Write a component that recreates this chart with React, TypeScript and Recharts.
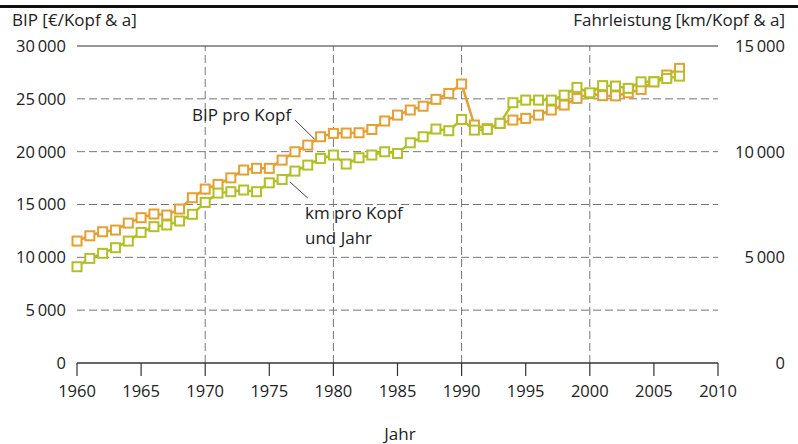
import { LineChart, Line, XAxis, YAxis, ReferenceLine } from 'recharts'

const years = [
  1960, 1961, 1962, 1963, 1964, 1965, 1966, 1967, 1968, 1969,
  1970, 1971, 1972, 1973, 1974, 1975, 1976, 1977, 1978, 1979,
  1980, 1981, 1982, 1983, 1984, 1985, 1986, 1987, 1988, 1989,
  1990, 1991, 1992, 1993, 1994, 1995, 1996, 1997, 1998, 1999,
  2000, 2001, 2002, 2003, 2004, 2005, 2006, 2007,
]

// BIP pro Kopf, €/Kopf & a (linke Achse)
const bip = [
  11540, 12040, 12420, 12580, 13240, 13750, 14100, 14000, 14570, 15640,
  16460, 16900, 17520, 18260, 18420, 18420, 19200, 19990, 20620, 21410,
  21730, 21760, 21790, 22100, 22900, 23460, 23940, 24300, 24950, 25510,
  26400, 22520, 22180, 22680, 22990, 23150, 23460, 23940, 24410, 25040,
  25510, 25300, 25280, 25570, 25890, 26610, 27250, 27880,
]

// Fahrleistung, km/Kopf & a (rechte Achse)
const km = [
  4555, 4950, 5190, 5455, 5770, 6180, 6450, 6530, 6720, 7035,
  7600, 8040, 8105, 8185, 8105, 8525, 8685, 9080, 9365, 9680,
  9840, 9415, 9710, 9840, 9995, 9915, 10420, 10705, 11070, 10990,
  11525, 11020, 11050, 11340, 12315, 12440, 12440, 12440, 12675, 13040,
  12785, 13125, 13105, 12995, 13305, 13305, 13465, 13575,
]

const xTicks = [1960, 1965, 1970, 1975, 1980, 1985, 1990, 1995, 2000, 2005, 2010]
const leftTicks = [0, 5000, 10000, 15000, 20000, 25000, 30000]
const rightTicks = [0, 5000, 10000, 15000]
const dashedY = [5000, 10000, 15000, 20000, 25000]
const dashedX = [1970, 1980, 1990, 2000]

const data = years.map((year, i) => ({ year, bip: bip[i], km: km[i] }))

const ORANGE = '#E6A030'
const GREEN = '#B2C024'
const FONT = "'Open Sans', 'Liberation Sans', sans-serif"

const fmt = (v: number) => {
  const s = String(v)
  return s.length > 3 ? s.slice(0, -3) + '\u2009' + s.slice(-3) : s
}

const square = (color: string) => (p: any) => (
  <rect
    key={`${color}-${p.index}`}
    x={p.cx - 4.5}
    y={p.cy - 4.5}
    width={9}
    height={9}
    fill="#fff"
    stroke={color}
    strokeWidth={2}
  />
)

const RightTick = ({ x, y, payload }: any) => (
  <text x={x + 67} y={y} dy="0.36em" textAnchor="end" fontSize={16.5} fill="#222" fontFamily={FONT}>
    {fmt(payload.value)}
  </text>
)

export default function App() {
  return (
    <div style={{ position: 'absolute', left: 0, top: 0, width: 798, height: 444, background: '#fff', fontFamily: FONT }}>
      <div style={{ position: 'absolute', left: 0, top: 5, width: 798, height: 3, background: '#111' }} />
      <div style={{ position: 'absolute', left: 12, top: 8, fontSize: 17, color: '#222' }}>BIP [€/Kopf &amp; a]</div>
      <div style={{ position: 'absolute', right: 13, top: 8, fontSize: 17, color: '#222' }}>Fahrleistung [km/Kopf &amp; a]</div>
      <LineChart width={798} height={444} data={data} margin={{ top: 46, right: 0, left: 0, bottom: 0 }}>
        <XAxis
          dataKey="year"
          type="number"
          domain={[1960, 2010]}
          ticks={xTicks}
          interval={0}
          height={81}
          tickSize={13}
          tickMargin={9}
          tick={{ fontSize: 16.5, fill: '#222', fontFamily: FONT }}
          axisLine={{ stroke: '#333', strokeWidth: 1.5 }}
          tickLine={{ stroke: '#333', strokeWidth: 1.2 }}
        />
        <YAxis
          yAxisId="left"
          domain={[0, 30000]}
          ticks={leftTicks}
          width={77}
          tickSize={0}
          tickMargin={11}
          axisLine={false}
          tickFormatter={fmt}
          tick={{ fontSize: 16.5, fill: '#222', fontFamily: FONT }}
        />
        <YAxis
          yAxisId="right"
          orientation="right"
          domain={[0, 15000]}
          ticks={rightTicks}
          width={80}
          tickSize={0}
          tickMargin={0}
          axisLine={false}
          tick={<RightTick />}
        />
        {dashedY.map((v) => (
          <ReferenceLine key={`h${v}`} yAxisId="left" y={v} stroke="#777" strokeDasharray="8 4" />
        ))}
        {dashedX.map((v) => (
          <ReferenceLine key={`v${v}`} yAxisId="left" x={v} stroke="#777" strokeDasharray="8 4" />
        ))}
        <ReferenceLine yAxisId="left" y={30000} stroke="#333" strokeWidth={1.2} />
        <ReferenceLine
          yAxisId="left"
          segment={[{ x: 1977.0, y: 22990 }, { x: 1978.6, y: 21100 }]}
          stroke="#444"
          strokeWidth={1}
        />
        <ReferenceLine
          yAxisId="left"
          segment={[{ x: 1976.6, y: 17150 }, { x: 1978.0, y: 15610 }]}
          stroke="#444"
          strokeWidth={1}
        />
        <Line
          yAxisId="left"
          dataKey="bip"
          type="linear"
          stroke={ORANGE}
          strokeWidth={2.5}
          dot={square(ORANGE)}
          activeDot={false}
          isAnimationActive={false}
        />
        <Line
          yAxisId="right"
          dataKey="km"
          type="linear"
          stroke={GREEN}
          strokeWidth={2.5}
          dot={square(GREEN)}
          activeDot={false}
          isAnimationActive={false}
        />
      </LineChart>
      <div style={{ position: 'absolute', left: 360, width: 80, textAlign: 'center', top: 422, fontSize: 17, color: '#222' }}>Jahr</div>
      <div style={{ position: 'absolute', left: 192, top: 103, fontSize: 17, color: '#222' }}>BIP pro Kopf</div>
      <div style={{ position: 'absolute', left: 305, top: 200, fontSize: 17, color: '#222', lineHeight: '25px' }}>
        km pro Kopf
        <br />
        und Jahr
      </div>
    </div>
  )
}
